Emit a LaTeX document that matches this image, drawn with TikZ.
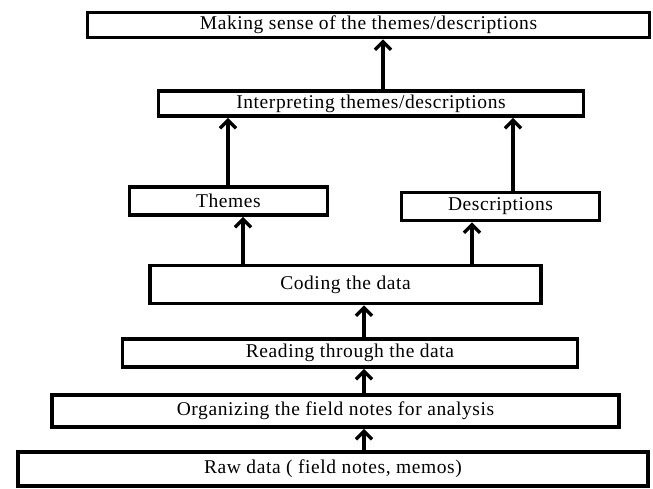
\documentclass[tikz,border=0pt]{standalone}
\usepackage{fontspec}
\setmainfont{Liberation Serif}[LetterSpace=3]
\usetikzlibrary{calc,arrows.meta}

\begin{document}
\begin{tikzpicture}[x=1pt,y=-1pt,
  font=\fontsize{19.5}{24}\selectfont,
  stepbox/.style={draw=black,line width=3.8pt,fill=white,inner sep=0pt,align=center},
  up/.style={line width=3.4pt,-{Straight Barb[length=8pt,width=16pt]}}]

\useasboundingbox (0,0) rectangle (653,489);

% boxes, bottom to top
\node[stepbox,minimum width=630,minimum height=34] (raw) at (333,469) {Raw data ( field notes, memos)};
\node[stepbox,minimum width=567,minimum height=32] (organize) at (335.5,411) {Organizing the field notes for analysis};
\node[stepbox,minimum width=455,minimum height=28] (reading) at (350,353) {Reading through the data};
\node[stepbox,minimum width=391,minimum height=38] (coding) at (345.5,284.5) {Coding the data};
\node[stepbox,minimum width=198,minimum height=28] (themes) at (228.5,201) {Themes};
\node[stepbox,minimum width=198,minimum height=28] (descr) at (500.5,206.5) {Descriptions};
\node[stepbox,minimum width=425,minimum height=25] (interp) at (371,103.5) {Interpreting themes/descriptions};
\node[stepbox,minimum width=562,minimum height=25] (sense) at (368.5,25) {Making sense of the themes/descriptions};

% arrow positions
\coordinate (mid) at (364,0);
\coordinate (th) at (243,0);
\coordinate (de) at (472,0);
\coordinate (thup) at (228,0);
\coordinate (deup) at (513,0);
\coordinate (top) at (383,0);

\draw[up] (raw.north -| mid) -- (organize.south -| mid);
\draw[up] (organize.north -| mid) -- (reading.south -| mid);
\draw[up] (reading.north -| mid) -- (coding.south -| mid);
\draw[up] (coding.north -| th) -- (themes.south -| th);
\draw[up] (coding.north -| de) -- (descr.south -| de);
\draw[up] (themes.north -| thup) -- (interp.south -| thup);
\draw[up] (descr.north -| deup) -- (interp.south -| deup);
\draw[up] (interp.north -| top) -- (sense.south -| top);
\end{tikzpicture}
\end{document}
